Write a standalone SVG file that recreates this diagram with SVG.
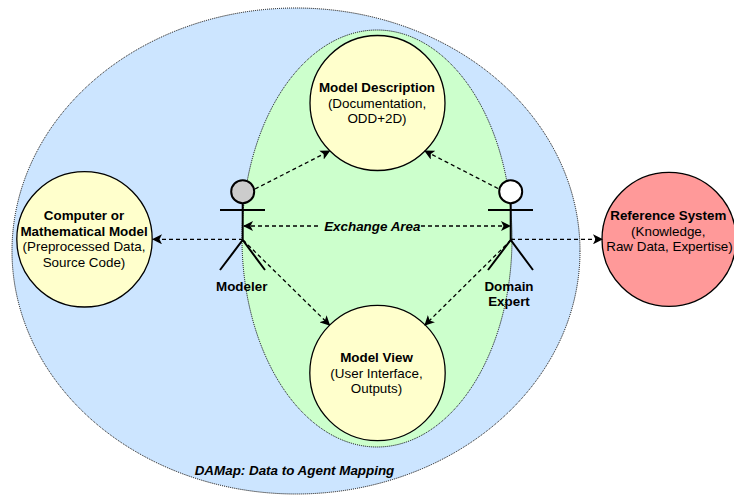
<svg xmlns="http://www.w3.org/2000/svg" width="734" height="495" viewBox="0 0 734 495">
<style>
text{font-family:"Liberation Sans",Arial,sans-serif;font-size:13.4px;fill:#000;text-anchor:middle}
.b{font-weight:bold}
.bi{font-weight:bold;font-style:italic}
.area{stroke:#000;stroke-width:1;stroke-dasharray:1 1}
.n{stroke:#000;stroke-width:1.3}
.y{fill:#ffffcc}
.link{fill:none;stroke:#000;stroke-width:1.3;stroke-dasharray:4 3}
.actor{fill:none;stroke:#000;stroke-width:2}
</style>
<defs>
<marker id="a" viewBox="0 0 10 10" refX="9" refY="5" markerWidth="10" markerHeight="10" markerUnits="userSpaceOnUse" orient="auto-start-reverse"><path d="M0 0L10 5L0 10L2.500 5Z" fill="#000"/></marker>
</defs>
<g id="damap"><ellipse class="area" cx="296" cy="251" rx="284" ry="243" fill="#cce5ff"/><text class="bi" x="294.500" y="475">DAMap: Data to Agent Mapping</text></g>
<g id="exchange"><ellipse class="area" cx="377" cy="238.500" rx="135" ry="208.500" fill="#ccffcc"/></g>
<g id="desc"><circle class="n y" cx="377.500" cy="103" r="67.500"/><text class="b" x="377" y="92">Model Description</text><text x="377" y="107.600">(Documentation,</text><text x="377" y="123.300">ODD+2D)</text></g>
<g id="view"><circle class="n y" cx="377.500" cy="373" r="67.700"/><text class="b" x="376.500" y="361.800">Model View</text><text x="376.500" y="377.500">(User Interface,</text><text x="376.500" y="393.200">Outputs)</text></g>
<g id="computer"><circle class="n y" cx="84.500" cy="239.300" r="67.700"/><text class="b" x="84" y="219.800">Computer or</text><text class="b" x="84" y="235.500">Mathematical Model</text><text x="84" y="251">(Preprocessed Data,</text><text x="84" y="266.700">Source Code)</text></g>
<g id="reference"><circle class="n" cx="669" cy="239.300" r="67" fill="#ff9999"/><text class="b" x="668.300" y="220">Reference System</text><text x="668.300" y="235.700">(Knowledge,</text><text x="669.500" y="251.400">Raw Data, Expertise)</text></g>
<g id="links">
<path class="link" marker-end="url(#a)" d="M243 239.300H153"/>
<path class="link" marker-end="url(#a)" d="M511 239.300H602"/>
<path class="link" marker-start="url(#a)" marker-end="url(#a)" d="M244 226H321M421 226H510"/>
<path class="link" marker-end="url(#a)" d="M255 189L329.500 151"/>
<path class="link" marker-end="url(#a)" d="M498 188.500L425 151"/>
<path class="link" marker-end="url(#a)" d="M243 240L329.500 325"/>
<path class="link" marker-end="url(#a)" d="M511 240L425 325"/>
</g>
<g id="modeler"><circle class="actor" cx="242.700" cy="191.700" r="11.500" style="fill:#cccccc"/><path class="actor" d="M242.700 203V240M220 210H265M220 270L242.700 240L265 270"/><text class="b" x="241.700" y="290.500">Modeler</text></g>
<g id="expert"><circle class="actor" cx="510.700" cy="191.700" r="11.500" style="fill:#fff"/><path class="actor" d="M510.700 203V240M488 210H533M488 270L510.700 240L533 270"/><text class="b" x="509" y="290.500">Domain</text><text class="b" x="509" y="306.300">Expert</text></g>
<text class="bi" x="372.300" y="230.700">Exchange Area</text>
</svg>
